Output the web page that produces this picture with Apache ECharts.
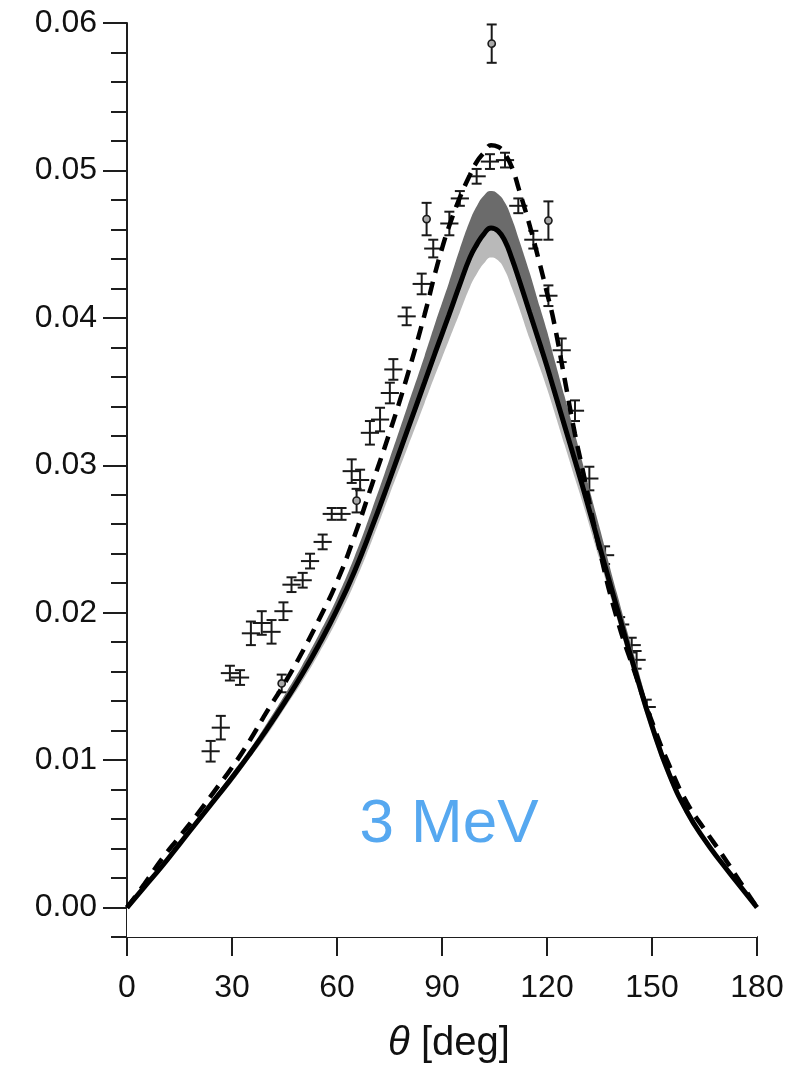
<!DOCTYPE html>
<html>
<head>
<meta charset="utf-8">
<script src="https://cdn.jsdelivr.net/npm/echarts@6/dist/echarts.min.js"></script>
<style>
html,body{margin:0;padding:0;background:#fff;}
#chart{width:793px;height:1072px;}
</style>
</head>
<body>
<div id="chart"></div>
<script>
// ---- data ----
const thetaGrid = [0,5,10,15,20,25,30,35,40,45,50,55,60,65,70,75,80,85,88,90,92,95,98,100,102,104,106,108,110,112,115,118,120,122,125,128,130,135,140,145,150,155,160,165,170,175,180];
const solidCurve = [0,0.0014,0.0028,0.0043,0.0058,0.0073,0.0088,0.0104,0.0121,0.0139,0.0158,0.0179,0.0202,0.0228,0.0258,0.0290,0.0323,0.0356,0.0376,0.0389,0.0402,0.0422,0.0441,0.0450,0.0457,0.0461,0.0459,0.0452,0.0440,0.0426,0.0404,0.0382,0.0367,0.0351,0.0327,0.0303,0.0287,0.0245,0.0203,0.0162,0.0123,0.0090,0.0065,0.0046,0.0030,0.0015,0];
const dashedCurve = [0,0.0016,0.0033,0.0048,0.0063,0.0079,0.0095,0.0113,0.0133,0.0152,0.0173,0.0196,0.0221,0.0252,0.0287,0.0322,0.0360,0.0402,0.0430,0.0447,0.0462,0.0481,0.0497,0.0506,0.0512,0.0517,0.0516,0.0511,0.0502,0.0487,0.0463,0.0436,0.0417,0.0397,0.0359,0.0321,0.0299,0.0243,0.0196,0.0160,0.0126,0.0096,0.0071,0.0053,0.0036,0.0018,0];
const bandUpper = [0,0.0014,0.0029,0.0044,0.0060,0.0075,0.0091,0.0107,0.0125,0.0144,0.0164,0.0186,0.0210,0.0238,0.0270,0.0304,0.0339,0.0374,0.0396,0.0410,0.0424,0.0446,0.0466,0.0476,0.0483,0.0486,0.0484,0.0478,0.0467,0.0453,0.0431,0.0407,0.0391,0.0373,0.0347,0.0321,0.0303,0.0258,0.0213,0.0170,0.0129,0.0094,0.0068,0.0048,0.0031,0.0016,0];
const bandLower = [0,0.0014,0.0027,0.0042,0.0056,0.0071,0.0085,0.0101,0.0117,0.0135,0.0153,0.0173,0.0195,0.0220,0.0249,0.0280,0.0311,0.0342,0.0361,0.0373,0.0385,0.0403,0.0421,0.0430,0.0437,0.0441,0.0439,0.0432,0.0420,0.0407,0.0386,0.0366,0.0352,0.0337,0.0314,0.0291,0.0276,0.0236,0.0196,0.0156,0.0118,0.0086,0.0062,0.0044,0.0029,0.0014,0];

const crossTheta = [23.9,26.8,29.4,32.3,35.4,38.5,41.3,44.7,47.0,50.2,52.3,55.9,58.5,61.3,64.2,66.6,69.4,72.3,75.1,76.1,79.9,84.2,87.5,92.1,95.1,99.9,103.7,108.0,111.8,116.1,120.4,124.2,128.0,132.1,136.6,140.9,144.2,145.6,148.5];
const crossValue = [0.0106,0.0122,0.0159,0.0156,0.0186,0.0193,0.0187,0.0201,0.0219,0.0222,0.0235,0.0248,0.0267,0.0267,0.0296,0.0290,0.0322,0.0331,0.0349,0.0365,0.0401,0.0423,0.0447,0.0464,0.0481,0.0496,0.0506,0.0507,0.0476,0.0453,0.0415,0.0378,0.0337,0.0291,0.0239,0.0192,0.0178,0.0168,0.0136];
const crossError = [0.0007,0.0008,0.0005,0.0005,0.0008,0.0008,0.0008,0.0006,0.0005,0.0005,0.0005,0.0005,0.0004,0.0004,0.0008,0.0007,0.0008,0.0008,0.0007,0.0007,0.0006,0.0007,0.0006,0.0008,0.0005,0.0005,0.0005,0.0005,0.0005,0.0006,0.0007,0.0008,0.0007,0.0008,0.0006,0.0005,0.0005,0.0006,0.0005];
const crossThetaHalfWidth = 2.6;

const circleTheta = [44.2,65.6,85.6,104.2,120.4];
const circleValue = [0.0152,0.0276,0.0467,0.0586,0.0466];
const circleError = [0.0006,0.0008,0.0011,0.0013,0.0013];

const xTicks = [0,30,60,90,120,150,180];
const yMajorTicks = [0,0.01,0.02,0.03,0.04,0.05,0.06];
const yMinorTicks = [-0.002,0.002,0.004,0.006,0.008,0.012,0.014,0.016,0.018,0.022,0.024,0.026,0.028,0.032,0.034,0.036,0.038,0.042,0.044,0.046,0.048,0.052,0.054,0.056,0.058];

// ---- chart ----
const pair = arr => thetaGrid.map((t, i) => [t, arr[i]]);
const FONT = '"Liberation Sans", Arial, Helvetica, sans-serif';
const AX = '#1e1e1e';
const SMOOTH = 0.5;

const chart = echarts.init(document.getElementById('chart'), null, {renderer: 'canvas'});

function errRender(withCross, withCircle) {
  return function (params, api) {
    const t = api.value(0), v = api.value(1), e = api.value(2);
    const c = api.coord([t, v]);
    const top = api.coord([t, v + e]);
    const bot = api.coord([t, v - e]);
    const cap = 5;
    const st = {stroke: '#1a1a1a', lineWidth: 2, fill: null};
    const ch = [
      {type: 'line', shape: {x1: c[0], y1: top[1], x2: c[0], y2: bot[1]}, style: st},
      {type: 'line', shape: {x1: c[0] - cap, y1: top[1], x2: c[0] + cap, y2: top[1]}, style: st},
      {type: 'line', shape: {x1: c[0] - cap, y1: bot[1], x2: c[0] + cap, y2: bot[1]}, style: st}
    ];
    if (withCross) {
      const l = api.coord([t - crossThetaHalfWidth, v]);
      const r = api.coord([t + crossThetaHalfWidth, v]);
      ch.push({type: 'line', shape: {x1: l[0], y1: c[1], x2: r[0], y2: c[1]}, style: st});
    }
    if (withCircle) {
      ch.push({type: 'circle', shape: {cx: c[0], cy: c[1], r: 3.6}, style: {stroke: '#1a1a1a', lineWidth: 1.6, fill: '#a8a8a8'}});
    }
    return {type: 'group', children: ch};
  };
}

function areaSeries(arr, color) {
  return {type: 'line', data: pair(arr), smooth: SMOOTH, symbol: 'none',
    lineStyle: {width: 0}, areaStyle: {color: color, opacity: 1, origin: 'start'}, silent: true};
}

const option = {
  animation: false,
  backgroundColor: '#ffffff',
  grid: {left: 127, right: 36, top: 23, bottom: 135, containLabel: false, outerBoundsMode: 'none'},
  xAxis: {
    type: 'value', min: 0, max: 180, interval: 30,
    axisLine: {onZero: false, lineStyle: {color: AX, width: 2}},
    axisTick: {inside: false, length: 19, lineStyle: {color: AX, width: 2}},
    axisLabel: {fontSize: 32, color: '#111', margin: 35, fontFamily: FONT},
    splitLine: {show: false},
    name: '{i|θ} [deg]', nameLocation: 'middle', nameGap: 87,
    nameTextStyle: {fontSize: 40, color: '#111', fontFamily: FONT, padding: [0, 0, 0, 14],
      rich: {i: {fontStyle: 'italic', fontSize: 40, color: '#111', fontFamily: FONT}}}
  },
  yAxis: [
    {
      type: 'value', min: -0.002, max: 0.06,
      axisLine: {show: true, onZero: false, lineStyle: {color: AX, width: 2}},
      axisTick: {show: true, inside: false, length: 24, customValues: yMajorTicks, lineStyle: {color: AX, width: 2}},
      axisLabel: {customValues: yMajorTicks, formatter: v => v.toFixed(2), fontSize: 32, color: '#111', margin: 30, fontFamily: FONT},
      splitLine: {show: false}
    },
    {
      type: 'value', min: -0.002, max: 0.06, position: 'left', offset: 0,
      axisLine: {show: false, onZero: false},
      axisTick: {show: true, inside: false, length: 16, customValues: yMinorTicks, lineStyle: {color: AX, width: 2}},
      axisLabel: {show: false},
      splitLine: {show: false}
    }
  ],
  series: [
    areaSeries(bandUpper, '#6b6b6b'),
    areaSeries(solidCurve, '#b9b9b9'),
    areaSeries(bandLower, '#ffffff'),
    {type: 'line', data: pair(solidCurve), smooth: SMOOTH, symbol: 'none',
     lineStyle: {color: '#000', width: 5}},
    {type: 'line', data: pair(dashedCurve), smooth: SMOOTH, symbol: 'none',
     lineStyle: {color: '#000', width: 4.5, type: [14, 9], cap: 'butt'}},
    {type: 'custom', renderItem: errRender(true, false),
     data: crossTheta.map((t, i) => [t, crossValue[i], crossError[i]]), encode: {x: 0, y: 1}},
    {type: 'custom', renderItem: errRender(false, true),
     data: circleTheta.map((t, i) => [t, circleValue[i], circleError[i]]), encode: {x: 0, y: 1}}
  ],
  graphic: [
    {type: 'text', x: 449, y: 825, z: 100,
     style: {text: '3 MeV', font: '62px ' + FONT, fill: '#56a8f0', align: 'center', verticalAlign: 'middle'}}
  ]
};
chart.setOption(option);
</script>
</body>
</html>
